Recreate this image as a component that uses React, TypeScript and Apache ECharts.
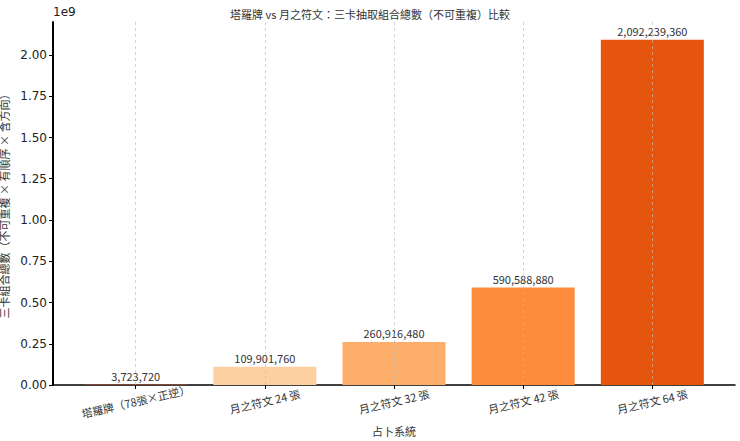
import React, { useEffect, useRef } from 'react';
import * as echarts from 'echarts';

const categories = ['塔羅牌（78張×正逆）', '月之符文 24 張', '月之符文 32 張', '月之符文 42 張', '月之符文 64 張'];
const totals = [3723720, 109901760, 260916480, 590588880, 2092239360];
const barColors = ['#b8502e', '#fdd0a2', '#fdae6b', '#fd8d3c', '#e6550d'];
const yStep = 0.25e9;
const yMax = 2.2e9;
const xPositions = [0, 1, 2, 3, 4];

const CJK = '"Noto Sans CJK TC", "Noto Sans CJK SC", sans-serif';
const NUM = '"DejaVu Sans", sans-serif';

const App: React.FC = () => {
  const chartRef = useRef<HTMLDivElement>(null);

  useEffect(() => {
    if (!chartRef.current) return;
    document.body.style.margin = '0';
    const chart = echarts.init(chartRef.current, undefined, { renderer: 'svg' });

    const option: any = {
      animation: false,
      backgroundColor: '#ffffff',
      title: {
        text: '塔羅牌 vs 月之符文：三卡抽取組合總數（不可重複）比較',
        left: 'center',
        top: 3,
        textStyle: { fontFamily: CJK, fontSize: 11, fontWeight: 'normal', color: '#333' },
      },
      graphic: [
        {
          type: 'text',
          left: 53,
          top: 6,
          style: { text: '1e9', font: `12px ${NUM}`, fill: '#222' },
        },
      ],
      grid: { left: 53, right: 5, top: 22, bottom: 56, outerBoundsMode: 'none', containLabel: false },
      xAxis: {
        type: 'value',
        min: -0.64,
        max: 4.64,
        name: '占卜系統',
        nameLocation: 'middle',
        nameGap: 40,
        nameTextStyle: { fontFamily: CJK, fontSize: 11, color: '#333' },
        axisLine: { show: true, onZero: false, lineStyle: { color: '#000', width: 1.5 } },
        axisTick: { show: true, length: 4, customValues: xPositions, lineStyle: { color: '#000' } },
        axisLabel: {
          customValues: xPositions,
          rotate: 13,
          align: 'center',
          margin: 16,
          fontFamily: CJK,
          fontSize: 11,
          color: '#333',
          formatter: (v: number) => categories[Math.round(v)] ?? '',
        },
        splitLine: { show: false },
      },
      yAxis: {
        type: 'value',
        min: 0,
        max: yMax,
        interval: yStep,
        z: 10,
        name: '三卡組合總數（不可重複 × 有順序 × 含方向）',
        nameLocation: 'middle',
        nameGap: 32,
        nameTextStyle: { fontFamily: CJK, fontSize: 11, color: '#333' },
        axisLine: { show: true, onZero: false, lineStyle: { color: '#000', width: 2 } },
        axisTick: { show: true, length: 4, lineStyle: { color: '#000', width: 1 } },
        axisLabel: {
          fontFamily: NUM,
          fontSize: 12,
          color: '#222',
          margin: 6,
          showMaxLabel: false,
          formatter: (v: number) => (v % yStep === 0 ? (v / 1e9).toFixed(2) : ''),
        },
        splitLine: { show: false },
      },
      series: [
        {
          type: 'bar',
          barWidth: 103,
          z: 2,
          data: totals.map((v, i) => ({
            value: [i, v],
            itemStyle: { color: barColors[i] },
          })),
          label: {
            show: true,
            position: 'top',
            distance: 3,
            fontFamily: CJK,
            fontSize: 11,
            color: '#333',
            formatter: (p: any) => p.value[1].toLocaleString('en-US'),
          },
        },
        {
          type: 'line',
          data: [],
          z: 5,
          markLine: {
            silent: true,
            symbol: 'none',
            label: { show: false },
            lineStyle: { color: '#bbbbbb', type: [3, 3], width: 0.8, opacity: 0.8 },
            data: xPositions.map((x) => ({ xAxis: x })),
          },
        },
      ],
    };

    chart.setOption(option);
    return () => chart.dispose();
  }, []);

  return <div ref={chartRef} style={{ width: 740, height: 441 }} />;
};

export default App;
